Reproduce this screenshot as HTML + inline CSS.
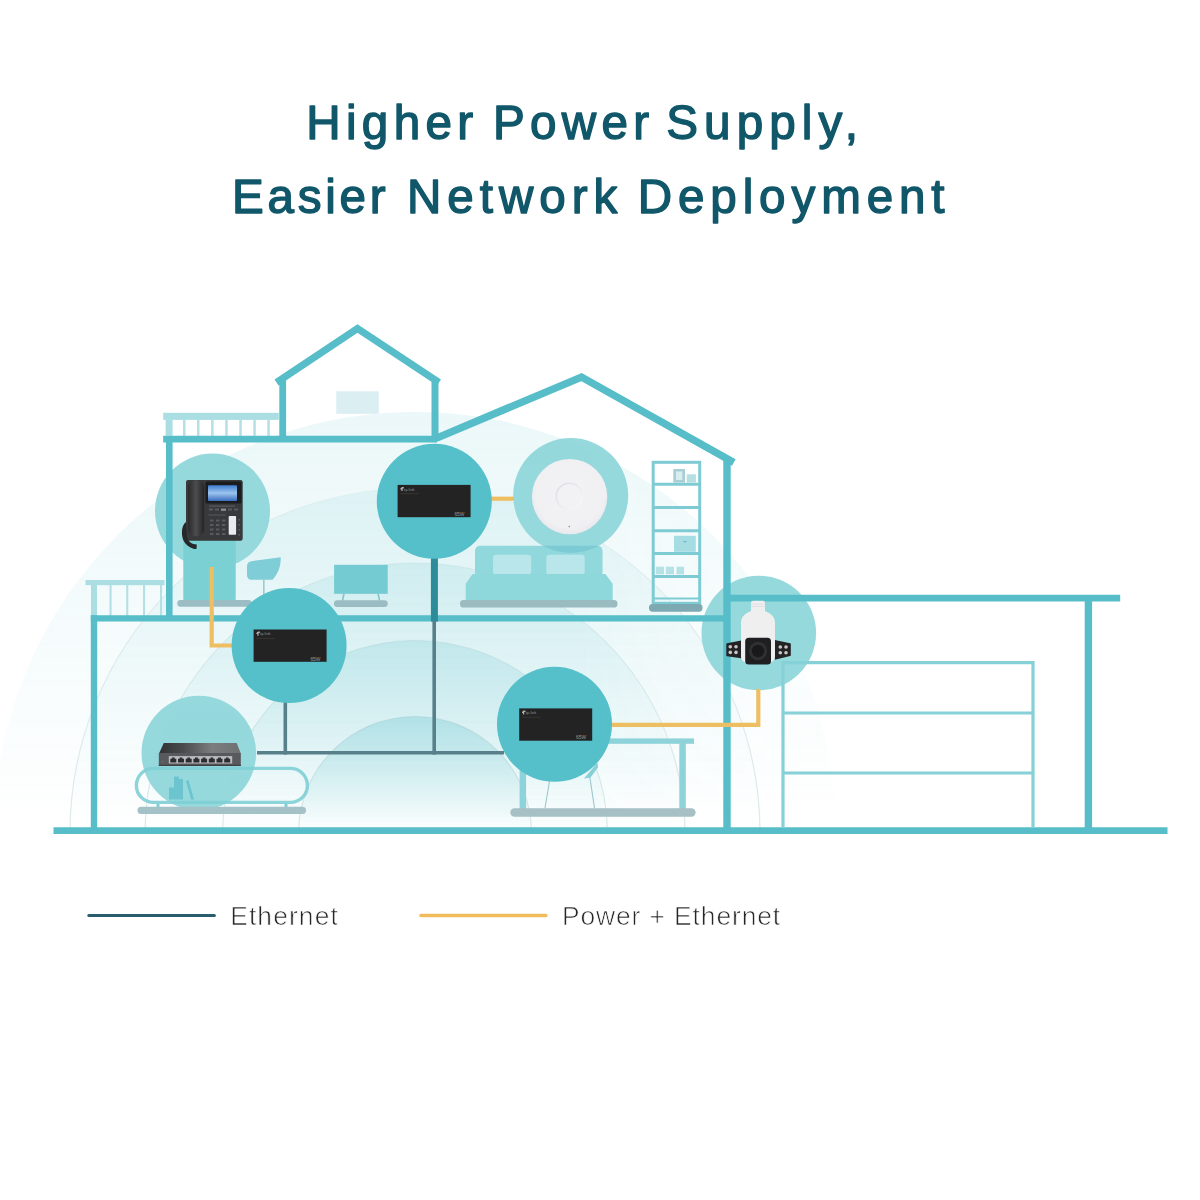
<!DOCTYPE html>
<html>
<head>
<meta charset="utf-8">
<title>Higher Power Supply, Easier Network Deployment</title>
<style>
  html, body { margin: 0; padding: 0; background: #ffffff; }
  body { width: 1200px; height: 1200px; overflow: hidden; position: relative; font-family: "Liberation Sans", sans-serif; }
  svg { position: absolute; left: 0; top: 0; display: block; }
  .title { font-family: "Liberation Sans", sans-serif; font-size: 47.6px; fill: #11576a; stroke: #11576a; stroke-width: 1.4px; stroke-linejoin: round; text-anchor: start; }
  .legend { font-family: "Liberation Sans", sans-serif; font-size: 26.4px; fill: #262626; stroke: #ffffff; stroke-width: 0.7px; }
</style>
</head>
<body>
<svg width="1200" height="1200" viewBox="0 0 1200 1200" style="opacity:0.999">
  <defs>
    <linearGradient id="dome5" gradientUnits="userSpaceOnUse" x1="0" y1="412" x2="0" y2="833">
      <stop offset="0" stop-color="#64c4ce" stop-opacity="0.128"/>
      <stop offset="1" stop-color="#64c4ce" stop-opacity="0"/>
    </linearGradient>
    <linearGradient id="dome4" gradientUnits="userSpaceOnUse" x1="0" y1="488" x2="0" y2="833">
      <stop offset="0" stop-color="#64c4ce" stop-opacity="0.126"/>
      <stop offset="1" stop-color="#64c4ce" stop-opacity="0"/>
    </linearGradient>
    <linearGradient id="dome3" gradientUnits="userSpaceOnUse" x1="0" y1="563" x2="0" y2="833">
      <stop offset="0" stop-color="#64c4ce" stop-opacity="0.161"/>
      <stop offset="1" stop-color="#64c4ce" stop-opacity="0"/>
    </linearGradient>
    <linearGradient id="dome2" gradientUnits="userSpaceOnUse" x1="0" y1="640.5" x2="0" y2="833">
      <stop offset="0" stop-color="#64c4ce" stop-opacity="0.226"/>
      <stop offset="1" stop-color="#64c4ce" stop-opacity="0"/>
    </linearGradient>
    <linearGradient id="dome1" gradientUnits="userSpaceOnUse" x1="0" y1="716.5" x2="0" y2="833">
      <stop offset="0" stop-color="#64c4ce" stop-opacity="0.334"/>
      <stop offset="1" stop-color="#64c4ce" stop-opacity="0"/>
    </linearGradient>
    <linearGradient id="arcStroke" gradientUnits="userSpaceOnUse" x1="0" y1="480" x2="0" y2="830">
      <stop offset="0" stop-color="#7fa9b0" stop-opacity="0.08"/>
      <stop offset="1" stop-color="#7fa9b0" stop-opacity="0.26"/>
    </linearGradient>
    <linearGradient id="fadeR" gradientUnits="userSpaceOnUse" x1="580" y1="0" x2="800" y2="0">
      <stop offset="0" stop-color="#fff" stop-opacity="1"/>
      <stop offset="1" stop-color="#fff" stop-opacity="0.7"/>
    </linearGradient>
    <mask id="domeMask" maskUnits="userSpaceOnUse" x="0" y="300" width="1200" height="540">
      <rect x="0" y="300" width="1200" height="540" fill="url(#fadeR)"/>
    </mask>
    <clipPath id="aboveGround"><rect x="0" y="300" width="1200" height="531"/></clipPath>
  </defs>

  <!-- TITLE -->
  <text id="w1" class="title" x="306.3" y="139.4" textLength="166.8" lengthAdjust="spacing">Higher</text>
  <text id="w2" class="title" x="493.0" y="139.4" textLength="156.2" lengthAdjust="spacing">Power</text>
  <text id="w3" class="title" x="666.3" y="139.4" textLength="191.7" lengthAdjust="spacing">Supply,</text>
  <text id="w4" class="title" x="232.0" y="212.9" textLength="153.7" lengthAdjust="spacing">Easier</text>
  <text id="w5" class="title" x="407.0" y="212.9" textLength="210.3" lengthAdjust="spacing">Network</text>
  <text id="w6" class="title" x="637.7" y="212.9" textLength="306.9" lengthAdjust="spacing">Deployment</text>

  <!-- BACKGROUND DOMES -->
  <g id="domes" clip-path="url(#aboveGround)">
    <g mask="url(#domeMask)">
      <circle cx="415" cy="833" r="421" fill="url(#dome5)"/>
      <circle cx="415" cy="833" r="345" fill="url(#dome4)"/>
      <circle cx="415" cy="833" r="270" fill="url(#dome3)"/>
      <circle cx="415" cy="833" r="192.5" fill="url(#dome2)"/>
      <circle cx="415" cy="833" r="116.5" fill="url(#dome1)"/>
    </g>
    <g fill="none" stroke="url(#arcStroke)" stroke-width="1.2">
      <circle cx="415" cy="833" r="345"/>
      <circle cx="415" cy="833" r="270"/>
      <circle cx="415" cy="833" r="192.5"/>
      <circle cx="415" cy="833" r="116.5"/>
    </g>
  </g>

  <!-- (sections below get filled in incrementally) -->
  <g id="lightcircles" fill="#93d8dc" fill-opacity="0.97">
    <circle cx="212.5" cy="511" r="57.5"/>
    <circle cx="570.7" cy="495.5" r="57.5"/>
    <circle cx="198.8" cy="753" r="57.3"/>
    <circle cx="758.8" cy="633" r="57.3"/>
  </g>
  <g id="furniture">
    <!-- attic window -->
    <rect x="336.3" y="391.3" width="42.5" height="22.5" fill="#dbeef2"/>
    <!-- upper balcony rail -->
    <g fill="#aadee3">
      <rect x="163.2" y="412.8" width="115.6" height="7.1"/>
      <rect x="165.6" y="419.8" width="7" height="16"/>
      <g fill="#b4dfe4">
      <rect x="183" y="419.8" width="2.5" height="16"/>
      <rect x="197" y="419.8" width="2.5" height="16"/>
      <rect x="211.1" y="419.8" width="2.5" height="16"/>
      <rect x="225.2" y="419.8" width="2.5" height="16"/>
      <rect x="239.3" y="419.8" width="2.5" height="16"/>
      <rect x="253.3" y="419.8" width="2.5" height="16"/>
      <rect x="267.3" y="419.8" width="2.5" height="16"/>
      </g>
    </g>
    <!-- lower balcony rail -->
    <g fill="#aadee3">
      <rect x="85.5" y="580" width="79" height="5.2"/>
      <rect x="91" y="585" width="6" height="31"/>
      <g fill="#b4dfe4">
      <rect x="109.5" y="585" width="2.1" height="31"/>
      <rect x="126.2" y="585" width="2.1" height="31"/>
      <rect x="143" y="585" width="2.1" height="31"/>
      <rect x="160" y="585" width="2.1" height="31"/>
      </g>
    </g>
    <!-- desk under phone -->
    <rect x="183.3" y="536" width="52.4" height="65" fill="#7bd0d4"/>
    <rect x="177.3" y="600" width="74.4" height="6.8" rx="3.2" fill="#9cbdc4"/>
    <!-- chair -->
    <path d="M251.5,561.2 L280.7,557.3 C281,566 278,574 272.5,579.7 L251.5,579.7 C248.5,579.7 247,578 247,575 L247,566 C247,563.5 248.8,561.6 251.5,561.2 Z" fill="#7fcdd6"/>
    <rect x="263" y="579.5" width="1.6" height="21" fill="#9ccad0"/>
    <!-- tv cabinet -->
    <rect x="334.1" y="564.8" width="53.6" height="29" fill="#74cbd1"/>
    <path d="M344,593.5 L342.5,600.5 M378,593.5 L379.5,600.5" stroke="#86c3cb" stroke-width="1.6" fill="none"/>
    <rect x="334" y="600.2" width="53.7" height="6.8" rx="3.2" fill="#9bbcc3"/>
    <!-- bed -->
    <rect x="475" y="545.8" width="127.5" height="32" rx="5" fill="#90d8db"/>
    <clipPath id="hb"><rect x="475" y="545.8" width="127.5" height="32" rx="5"/></clipPath>
    <circle cx="570.7" cy="495.5" r="57.5" fill="#7ccbd4" clip-path="url(#hb)"/>
    <rect x="493" y="554.7" width="38.2" height="20" rx="3" fill="#b9e6ea"/>
    <rect x="546.3" y="554.7" width="38.4" height="20" rx="3" fill="#b9e6ea"/>
    <path d="M473,575 L605,575 L611.7,584 L611.7,601 L466.7,601 L466.7,584 Z" fill="#8ed7da" stroke="#8ed7da" stroke-width="2" stroke-linejoin="round"/>
    <rect x="460" y="600" width="157.5" height="7.5" rx="3.6" fill="#9abbc0"/>
    <!-- shelf -->
    <g fill="none" stroke="#7fcbd4" stroke-width="3">
      <rect x="653.2" y="462.3" width="46.5" height="141"/>
      <line x1="653" y1="484.2" x2="700" y2="484.2"/>
      <line x1="653" y1="507.5" x2="700" y2="507.5"/>
      <line x1="653" y1="530.8" x2="700" y2="530.8"/>
      <line x1="653" y1="553.4" x2="700" y2="553.4"/>
      <line x1="653" y1="576.4" x2="700" y2="576.4"/>
      <line x1="653" y1="598.5" x2="700" y2="598.5" stroke-width="2.2"/>
    </g>
    <rect x="649" y="604" width="53.5" height="7.7" rx="3.6" fill="#7da9b2"/>
    <rect x="673.3" y="469" width="11.7" height="13.6" fill="#a9cfd4"/>
    <rect x="676" y="471.5" width="6.3" height="8.5" fill="#d9eef0"/>
    <rect x="686.7" y="474.3" width="9.2" height="8.3" fill="#b5dfe3"/>
    <rect x="674" y="535.8" width="21.8" height="16" fill="#a5dde2"/>
    <rect x="683.5" y="541" width="3" height="1.2" fill="#6fb6bf"/>
    <rect x="655.8" y="566.7" width="8.2" height="7.6" fill="#b5e2e6"/>
    <rect x="665.8" y="566.7" width="8.2" height="7.6" fill="#b5e2e6"/>
    <rect x="676.5" y="566.7" width="7.6" height="7.6" fill="#b5e2e6"/>
    <!-- console table bottom-left -->
    <rect x="136.4" y="768.4" width="171" height="34" rx="17" fill="none" stroke="#7fcfd6" stroke-width="3.4" stroke-opacity="0.9"/>
    <path d="M158,804 L158,807.5 M286,804 L286,807.5" stroke="#7fcfd6" stroke-width="3" fill="none"/>
    <path d="M169,799.5 L169,787.5 L174,787.5 L174,776.5 L179,776.5 L179,779 L183,779 L183,799.5 Z" fill="#6cc5ce"/>
    <path d="M186,781 L188.5,780 L194,799.5 L191,799.5 Z" fill="#6cc5ce"/>
    <rect x="137.5" y="806.7" width="168.5" height="7.4" rx="3.6" fill="#a3c1c6"/>
    <!-- table right -->
    <rect x="606" y="738.4" width="88" height="5.4" fill="#8fd3da"/>
    <rect x="679.3" y="743" width="6.5" height="66" fill="#8fd3da"/>
    <rect x="519.6" y="760" width="6.5" height="49" fill="#8fd3da"/>
    <path d="M584,778.5 L597.6,762.5 L598,767.5 L590.5,777.5 Z" fill="#86d0d7"/>
    <path d="M549.5,781 L545,808 M589.5,775 L594.5,808" stroke="#9cc7cc" stroke-width="1.1" fill="none"/>
    <rect x="510.3" y="808.2" width="185.3" height="8.6" rx="4.2" fill="#a6c0c5"/>
  </g>
  
  <g id="structure" fill="none" stroke="#56bdc9" stroke-width="7" stroke-linejoin="miter">
    <!-- ground -->
    <line x1="53.5" y1="830.6" x2="1167.5" y2="830.6" stroke-width="6.8"/>
    <!-- main lower floor: left wall + first-floor slab -->
    <line x1="94" y1="615.2" x2="94" y2="831" stroke-width="6.4"/>
    <line x1="90.8" y1="618.4" x2="727" y2="618.4" stroke-width="6.4"/>
    <!-- right wall of house -->
    <line x1="727" y1="459" x2="727" y2="831" stroke-width="7.4"/>
    <!-- upper floor left wall and ceiling -->
    <line x1="169.3" y1="436" x2="169.3" y2="618" stroke-width="6.6"/>
    <line x1="163.2" y1="439.1" x2="437" y2="439.1" stroke-width="6.9"/>
    <!-- attic -->
    <polyline points="282.7,439 282.7,380" stroke-width="6.8"/>
    <polyline points="435,439 435,380" stroke-width="7"/>
    <polyline points="276.5,382.5 357.5,328.5 439,382.5" stroke-width="7.2" stroke-linejoin="miter"/>
    <!-- big roof -->
    <polyline points="436,438.3 581.5,377 733.8,462.4" stroke-width="7.4" stroke-linejoin="miter"/>
    <!-- garage -->
    <line x1="727" y1="598.1" x2="1120.2" y2="598.1" stroke-width="6.8"/>
    <line x1="1088.4" y1="598" x2="1088.4" y2="831" stroke-width="7.4"/>
    <!-- garage door -->
    <g stroke="#86d0d8" stroke-width="3.2">
      <path d="M783,828 L783,662.7 L1033,662.7 L1033,828"/>
      <line x1="783" y1="713" x2="1033" y2="713"/>
      <line x1="783" y1="773" x2="1033" y2="773"/>
    </g>
  </g>
  <g id="cables" fill="none" stroke-linejoin="miter">
    <line x1="434.4" y1="553" x2="434.4" y2="621.6" stroke="#2e8b99" stroke-width="7"/>
    <g stroke="#57808a" stroke-width="3.6">
      <line x1="434.2" y1="621" x2="434.2" y2="754.6"/>
      <line x1="285.3" y1="700" x2="285.3" y2="754.6"/>
      <line x1="257" y1="752.8" x2="504" y2="752.8"/>
    </g>
    <g stroke="#eebf62" stroke-width="4.2">
      <polyline points="211.7,567 211.7,645.5 232,645.5"/>
      <line x1="491" y1="498.7" x2="514" y2="498.7"/>
      <polyline points="611,724.9 758.3,724.9 758.3,689"/>
    </g>
  </g>
  <g id="darkcircles" fill="#55c0c9">
    <circle cx="434.3" cy="501.3" r="57.5"/>
    <circle cx="289.1" cy="645.6" r="57.5"/>
    <circle cx="554.5" cy="724.3" r="57.5"/>
  </g>
  <g id="devices">
    <!-- PoE injectors -->
    <g transform="translate(397.6,484.9)">
      <rect x="0" y="0" width="73" height="32.3" fill="#232323"/>
      <path d="M2.8,4.6 L2.8,3.6 L4.4,2.1 L6.2,2.1 L6.2,3.5 L5,3.5 L5,6.2 L3.8,6.2 L3.8,4.6 Z" fill="#b4b4b4"/>
      <text x="6.5" y="5.8" font-family="Liberation Sans, sans-serif" font-size="4.2" font-weight="bold" fill="#777" textLength="10.4" lengthAdjust="spacingAndGlyphs">tp-link</text>
      <rect x="2.8" y="8.4" width="18.5" height="0.8" fill="#393939"/>
      <text x="56.8" y="31" font-family="Liberation Sans, sans-serif" font-size="5.2" fill="#999" textLength="10" lengthAdjust="spacingAndGlyphs">65W</text>
    </g><g transform="translate(253.6,629.5)">
      <rect x="0" y="0" width="73" height="32.3" fill="#232323"/>
      <path d="M2.8,4.6 L2.8,3.6 L4.4,2.1 L6.2,2.1 L6.2,3.5 L5,3.5 L5,6.2 L3.8,6.2 L3.8,4.6 Z" fill="#b4b4b4"/>
      <text x="6.5" y="5.8" font-family="Liberation Sans, sans-serif" font-size="4.2" font-weight="bold" fill="#777" textLength="10.4" lengthAdjust="spacingAndGlyphs">tp-link</text>
      <rect x="2.8" y="8.4" width="18.5" height="0.8" fill="#393939"/>
      <text x="56.8" y="31" font-family="Liberation Sans, sans-serif" font-size="5.2" fill="#999" textLength="10" lengthAdjust="spacingAndGlyphs">65W</text>
    </g><g transform="translate(519.2,708.4)">
      <rect x="0" y="0" width="73" height="32.3" fill="#232323"/>
      <path d="M2.8,4.6 L2.8,3.6 L4.4,2.1 L6.2,2.1 L6.2,3.5 L5,3.5 L5,6.2 L3.8,6.2 L3.8,4.6 Z" fill="#b4b4b4"/>
      <text x="6.5" y="5.8" font-family="Liberation Sans, sans-serif" font-size="4.2" font-weight="bold" fill="#777" textLength="10.4" lengthAdjust="spacingAndGlyphs">tp-link</text>
      <rect x="2.8" y="8.4" width="18.5" height="0.8" fill="#393939"/>
      <text x="56.8" y="31" font-family="Liberation Sans, sans-serif" font-size="5.2" fill="#999" textLength="10" lengthAdjust="spacingAndGlyphs">65W</text>
    </g>
    <!-- Access point -->
    <defs>
      <radialGradient id="apg" cx="0.5" cy="0.45" r="0.55">
        <stop offset="0" stop-color="#f3f2f5"/>
        <stop offset="0.85" stop-color="#f0eff2"/>
        <stop offset="1" stop-color="#e9e9ed"/>
      </radialGradient>
      <linearGradient id="apring" x1="0" y1="0" x2="1" y2="1">
        <stop offset="0" stop-color="#dddce2"/>
        <stop offset="0.55" stop-color="#ebeaee"/>
        <stop offset="1" stop-color="#fbfbfc"/>
      </linearGradient>
      <linearGradient id="swtop" x1="0" y1="0" x2="1" y2="0">
        <stop offset="0" stop-color="#303133"/>
        <stop offset="0.3" stop-color="#4a4b4d"/>
        <stop offset="0.65" stop-color="#7c7d7f"/>
        <stop offset="1" stop-color="#6e6f71"/>
      </linearGradient>
      <linearGradient id="scr" x1="0" y1="0" x2="0" y2="1">
        <stop offset="0" stop-color="#3f7fd0"/>
        <stop offset="0.5" stop-color="#9cc4ee"/>
        <stop offset="1" stop-color="#3a6fc0"/>
      </linearGradient>
      <linearGradient id="hs" x1="0" y1="0" x2="1" y2="0">
        <stop offset="0" stop-color="#2a2a2c"/>
        <stop offset="0.5" stop-color="#4d4d50"/>
        <stop offset="1" stop-color="#242426"/>
      </linearGradient>
    </defs>
    <circle cx="569.6" cy="496.6" r="37.7" fill="url(#apg)"/>
    <circle cx="569.3" cy="496.3" r="13.1" fill="#f2f1f4" stroke="url(#apring)" stroke-width="1.5"/>
    <circle cx="569.3" cy="526.6" r="0.8" fill="#8a8f96"/>

    <!-- IP phone -->
    <g id="phone">
      <path d="M186,482 Q186,480 188,480 L240.5,480 Q242.7,480 242.7,482.2 L242.7,538.5 Q242.7,540.7 240.5,540.7 L188,540.7 Q186,540.7 186,538.5 Z" fill="#37393a"/>
      <rect x="205.5" y="481.5" width="36" height="22" rx="1.5" fill="#1b1c1e"/>
      <rect x="208" y="485.3" width="29" height="15.6" rx="1" fill="url(#scr)"/>
      <rect x="228.7" y="516" width="7.4" height="18.8" rx="0.8" fill="#e9ebef"/>
      <g fill="#5a5b5e">
        <rect x="209" y="505.5" width="26" height="1.2"/>
        <rect x="209" y="508.5" width="4" height="2"/><rect x="215" y="508.5" width="4" height="2"/><rect x="221" y="508.5" width="5" height="2.4" fill="#8a8b8e"/><rect x="228" y="508.5" width="4" height="2"/><rect x="234" y="508.5" width="4" height="2"/>
        <rect x="208.5" y="514.5" width="17" height="1"/>
        <rect x="210" y="519.5" width="3.4" height="2"/><rect x="216" y="519.5" width="3.4" height="2"/><rect x="222" y="519.5" width="3.4" height="2"/>
        <rect x="210" y="524" width="3.4" height="2"/><rect x="216" y="524" width="3.4" height="2"/><rect x="222" y="524" width="3.4" height="2"/>
        <rect x="210" y="528.5" width="3.4" height="2"/><rect x="216" y="528.5" width="3.4" height="2"/><rect x="222" y="528.5" width="3.4" height="2"/>
        <rect x="210" y="533" width="3.4" height="2"/><rect x="216" y="533" width="3.4" height="2"/><rect x="222" y="533" width="3.4" height="2"/>
        <rect x="238.5" y="519" width="1.6" height="1.6"/><rect x="238.5" y="524" width="1.6" height="1.6"/><rect x="238.5" y="529" width="1.6" height="1.6"/><rect x="238.5" y="534" width="1.6" height="1.6"/>
      </g>
      <rect x="188" y="480.3" width="16.2" height="56" rx="7" fill="url(#hs)"/>
      <path d="M186,522 C180.5,526 181,538 185,543 C188,547 194,549.5 196.5,549 L196.8,544.5 C192,544.5 187.5,541 186.8,536 Z" fill="#262729"/>
    </g>

    <!-- switch -->
    <g id="switch">
      <path d="M163.8,742.9 L236.7,742.9 L240.8,753.6 L159,753.6 Z" fill="url(#swtop)"/>
      <rect x="158.8" y="753" width="82" height="12.9" fill="#58595c"/>
      <rect x="158.8" y="764.8" width="82" height="1.2" fill="#3e3f41"/>
      <rect x="168.8" y="756.1" width="63.4" height="7.4" fill="#b9bcc0"/>
      <g fill="#2c2d2f">
        <path d="M170.3,762.4 v-3.6 h1.6 v-1.2 h2.8 v1.2 h1.6 v3.6 z"/>
        <path d="M178.0,762.4 v-3.6 h1.6 v-1.2 h2.8 v1.2 h1.6 v3.6 z"/>
        <path d="M185.7,762.4 v-3.6 h1.6 v-1.2 h2.8 v1.2 h1.6 v3.6 z"/>
        <path d="M193.4,762.4 v-3.6 h1.6 v-1.2 h2.8 v1.2 h1.6 v3.6 z"/>
        <path d="M201.1,762.4 v-3.6 h1.6 v-1.2 h2.8 v1.2 h1.6 v3.6 z"/>
        <path d="M208.8,762.4 v-3.6 h1.6 v-1.2 h2.8 v1.2 h1.6 v3.6 z"/>
        <path d="M216.5,762.4 v-3.6 h1.6 v-1.2 h2.8 v1.2 h1.6 v3.6 z"/>
        <path d="M224.2,762.4 v-3.6 h1.6 v-1.2 h2.8 v1.2 h1.6 v3.6 z"/>
      </g>
      <circle cx="162.6" cy="761.6" r="0.7" fill="#7d8084"/>
    </g>

    <!-- camera -->
    <g id="camera">
      <path d="M726.3,644 Q726.3,643.4 727,643.3 L741.2,640.6 L741.2,658.2 L727,656.2 Q726.3,656.1 726.3,655.5 Z" fill="#232325"/>
      <path d="M790.8,644 Q790.8,643.4 790.1,643.3 L774.8,640 L774.8,659.8 L790.1,656 Q790.8,655.9 790.8,655.3 Z" fill="#232325"/>
      <g fill="#cbc6c4">
        <circle cx="730.3" cy="646.8" r="1.8"/><circle cx="736" cy="646.8" r="1.8"/><circle cx="730.3" cy="652.4" r="1.8"/><circle cx="736" cy="652.4" r="1.8"/>
        <circle cx="780.3" cy="647" r="1.8"/><circle cx="786" cy="647" r="1.8"/><circle cx="780.3" cy="652.7" r="1.8"/><circle cx="786" cy="652.7" r="1.8"/>
      </g>
      <path d="M751,602.8 Q751,600.7 753.1,600.7 L762.9,600.7 Q765,600.7 765,602.8 L765,611 C769.5,613 775,615.5 775,623 L775,656 Q775,662.4 768.6,662.4 L747.4,662.4 Q741,662.4 741,656 L741,623 C741,615.5 746.5,613 751,611 Z" fill="#efeff0"/>
      <rect x="751" y="603.6" width="14" height="1" fill="#e2e2e4"/>
      <rect x="751" y="606" width="14" height="1" fill="#e2e2e4"/>
      <rect x="745.2" y="637.8" width="25.8" height="26.8" rx="3.6" fill="#1f1f21"/>
      <circle cx="758" cy="651" r="9.2" fill="#303033"/>
      <circle cx="758" cy="651" r="6.2" fill="#19191b"/>
    </g>
  </g>

  <!-- LEGEND -->
  <g id="legend">
    <line x1="88.8" y1="915.4" x2="214.4" y2="915.4" stroke="#2a5d6b" stroke-width="3" stroke-linecap="round"/>
    <text class="legend" x="230.2" y="925" textLength="107.6" lengthAdjust="spacing">Ethernet</text>
    <line x1="421" y1="915.5" x2="545.8" y2="915.5" stroke="#f0bc5e" stroke-width="3.6" stroke-linecap="round"/>
    <text class="legend" x="562" y="925" textLength="218.2" lengthAdjust="spacing">Power + Ethernet</text>
  </g>
</svg>
</body>
</html>
